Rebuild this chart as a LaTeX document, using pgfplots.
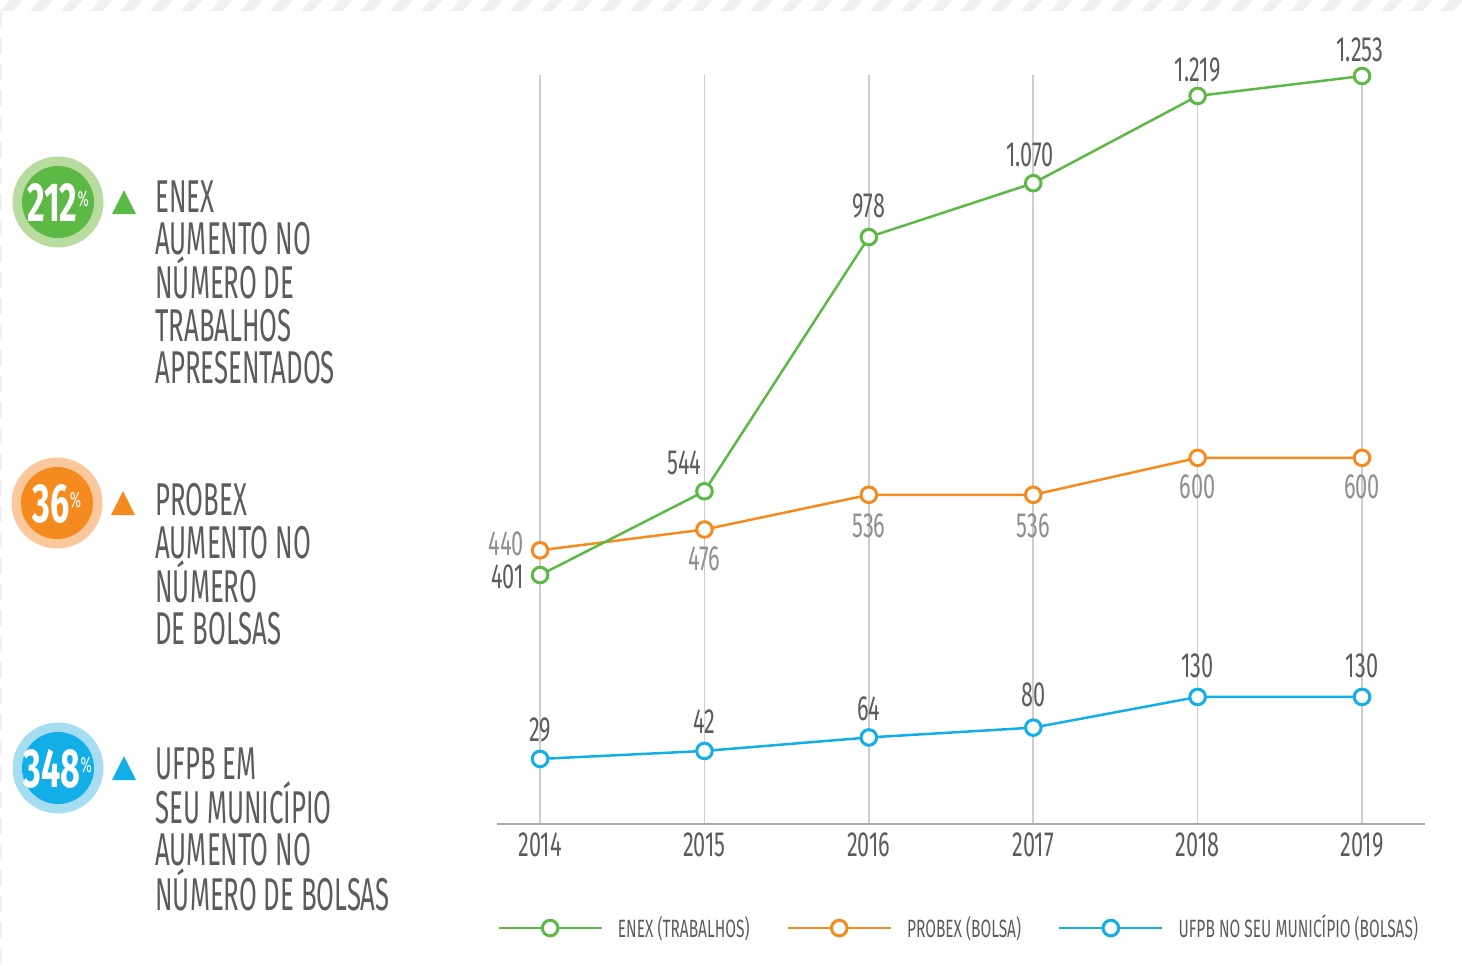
\documentclass[border=0pt]{standalone}
\usepackage{pgfplots}
\pgfplotsset{compat=1.18}
\usepackage{fontspec}
\setmainfont{Fira Sans}[FakeStretch=0.62]
\newfontfamily\lf{Fira Sans}[FakeStretch=0.56]

\definecolor{cgreen}{HTML}{5DB946}
\definecolor{cgreenl}{HTML}{B8DCA0}
\definecolor{corange}{HTML}{F58A1F}
\definecolor{corangel}{HTML}{FBC79D}
\definecolor{cblue}{HTML}{12AEE8}
\definecolor{cbluel}{HTML}{A7DDF3}
\definecolor{txt}{HTML}{5C5C5E}
\definecolor{txtl}{HTML}{8E8E93}
\definecolor{gridc}{HTML}{CDCDCD}
\definecolor{axisc}{HTML}{A8A8A8}
\definecolor{stripe}{HTML}{F0F0F0}

\pgfplotsset{
  base/.style={scale only axis, width=464pt, height=374.5pt,
    xmin=2013.738, xmax=2019.383, clip=false,
    at={(248.5pt,-412pt)}, anchor=south west},
  ser/.style={#1, line width=1.25pt, mark=*, mark size=3.9pt,
    mark options={fill=white, draw=#1, line width=1.5pt, solid}},
}
\tikzset{
  lab/.style={font=\fontsize{17.5}{17.5}\selectfont, text=txt, inner sep=0pt},
  blk/.style={anchor=north west, inner sep=0pt, align=left, text=txt,
    font=\lf\fontsize{23}{21.2}\selectfont},
  pct/.style={text=white, inner sep=0pt, font=\fontsize{27.5}{27.5}\selectfont\bfseries},
}
\newcommand\pc{\raisebox{7.5pt}{\fontsize{11}{11}\selectfont\mdseries\%}}

\begin{document}
\begin{tikzpicture}
\begin{scope}[x=0.5pt,y=-0.5pt]
\path[use as bounding box] (0,0) rectangle (1462,965);
% striped band at the top
\foreach \i in {-30,0,...,1470} {
  \fill[stripe] (\i,11) -- (\i+13,11) -- (\i+23,0) -- (\i+10,0) -- cycle;
}
\draw[gray!12, line width=1pt, dash pattern=on 8pt off 5pt] (1,12) -- (1,965);

% left side: percentages
\fill[cgreenl] (58,202) circle[radius=45.5];
\fill[cgreen] (58,202) circle[radius=36];
\node[pct] at (58,203) {212\pc};
\fill[cgreen] (112,214) -- (136,214) -- (124,190) -- cycle;
\node[blk] at (155,180) {ENEX\\AUMENTO NO\\NÚMERO DE\\TRABALHOS\\APRESENTADOS};

\fill[corangel] (57,503) circle[radius=45.5];
\fill[corange] (57,503) circle[radius=36];
\node[pct] at (57,504) {36\pc};
\fill[corange] (111,515) -- (135,515) -- (123,491) -- cycle;
\node[blk] at (155,483) {PROBEX\\AUMENTO NO\\NÚMERO\\DE BOLSAS};

\fill[cbluel] (58,768) circle[radius=45.5];
\fill[cblue] (58,768) circle[radius=36];
\node[pct] at (58,769) {348\pc};
\fill[cblue] (112,780) -- (136,780) -- (124,756) -- cycle;
\node[blk] at (155,747) {UFPB EM\\SEU MUNICÍPIO\\AUMENTO NO\\NÚMERO DE BOLSAS};
\end{scope}

% grid, x axis and UFPB series
\begin{axis}[base, ymin=-77, ymax=1143,
  axis x line=bottom, axis y line=none,
  axis line style={draw=axisc, line width=1pt, -},
  xtick={2014,...,2019}, major tick length=0pt,
  xticklabel style={/pgf/number format/1000 sep=, /pgf/number format/assume math mode=true,
    font=\fontsize{17.5}{17.5}\selectfont, text=txt, yshift=-1pt},
  xmajorgrids, grid style={draw=gridc, line width=0.75pt}, ytick=\empty]
\addplot[ser=cblue] coordinates {(2014,29) (2015,42) (2016,64) (2017,80) (2018,130) (2019,130)};
\node[lab, yshift=14.5pt] at (axis cs:2014,29) {29};
\node[lab, yshift=14.5pt] at (axis cs:2015,42) {42};
\node[lab, yshift=14.5pt] at (axis cs:2016,64) {64};
\node[lab, yshift=16.5pt] at (axis cs:2017,80) {80};
\node[lab, yshift=15.5pt] at (axis cs:2018,130) {130};
\node[lab, yshift=15.5pt] at (axis cs:2019,130) {130};
\end{axis}

% PROBEX series
\begin{axis}[base, hide axis, ymin=-33.5, ymax=1262.3]
\addplot[ser=corange] coordinates {(2014,440) (2015,476) (2016,536) (2017,536) (2018,600) (2019,600)};
\node[lab, text=txtl, anchor=east, xshift=-8pt, yshift=3pt] at (axis cs:2014,440) {440};
\node[lab, text=txtl, yshift=-14.5pt] at (axis cs:2015,476) {476};
\node[lab, text=txtl, yshift=-15.5pt] at (axis cs:2016,536) {536};
\node[lab, text=txtl, yshift=-15.5pt] at (axis cs:2017,536) {536};
\node[lab, text=txtl, yshift=-14.5pt] at (axis cs:2018,600) {600};
\node[lab, text=txtl, yshift=-14.5pt] at (axis cs:2019,600) {600};
\end{axis}

% ENEX series and legend
\begin{axis}[base, hide axis, ymin=-24.1, ymax=1254.7,
  legend image code/.code={\draw[mark repeat=2, mark phase=2, #1]
    plot coordinates {(0pt,0pt) (25.75pt,0pt) (51.5pt,0pt)};},
  legend style={at={(0,-0.1389)}, anchor=west, draw=none, fill=none,
    font=\fontsize{12.5}{13}\selectfont, text=txt, inner sep=0pt,
    /tikz/every odd column/.style={column sep=5.5pt},
    /tikz/every even column/.style={column sep=16.5pt}},
  legend columns=3, legend cell align=left]
\addplot[ser=cgreen] coordinates {(2014,401) (2015,544) (2016,978) (2017,1070) (2018,1219) (2019,1253)};
\addlegendentry{ENEX (TRABALHOS)}
\addlegendimage{ser=corange}
\addlegendentry{PROBEX (BOLSA)}
\addlegendimage{ser=cblue}
\addlegendentry{UFPB NO SEU MUNICÍPIO (BOLSAS)}
\node[lab, anchor=east, xshift=-8pt, yshift=-1pt] at (axis cs:2014,401) {401};
\node[lab, xshift=-10pt, yshift=14pt] at (axis cs:2015,544) {544};
\node[lab, yshift=15.5pt] at (axis cs:2016,978) {978};
\node[lab, xshift=-1.5pt, yshift=14pt] at (axis cs:2017,1070) {1.070};
\node[lab, yshift=13pt] at (axis cs:2018,1219) {1.219};
\node[lab, xshift=-1pt, yshift=13pt] at (axis cs:2019,1253) {1.253};
\end{axis}
\end{tikzpicture}
\end{document}
